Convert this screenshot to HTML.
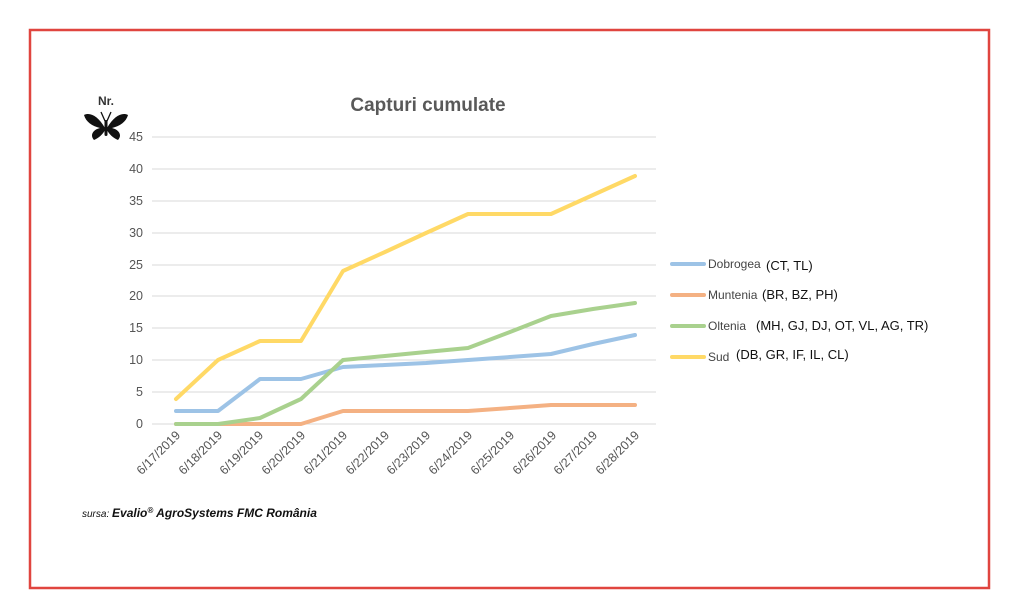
<!DOCTYPE html>
<html><head><meta charset="utf-8"><style>
body{margin:0;background:#fff;width:1024px;height:616px;overflow:hidden}
svg{display:block}
</style></head><body>
<svg width="1024" height="616" xmlns="http://www.w3.org/2000/svg" font-family="Liberation Sans, sans-serif">
<rect x="30" y="30" width="959" height="558" fill="none" stroke="#e0453f" stroke-width="2.5"/>
<text x="428" y="111" text-anchor="middle" font-size="19" font-weight="bold" fill="#595959">Capturi  cumulate</text>
<text x="106" y="105" text-anchor="middle" font-size="12" font-weight="bold" fill="#333">Nr.</text>
<g fill="#111">
<path d="M105 128 C98 116 90 112 84 115 C86 122 92 126 100 128 C92 130 90 136 94 140 C99 138 103 134 105 130 Z"/>
<path d="M107 128 C114 116 122 112 128 115 C126 122 120 126 112 128 C120 130 122 136 118 140 C113 138 109 134 107 130 Z"/>
<rect x="104.5" y="120" width="3" height="16" rx="1.5"/>
<path d="M105 121 L101 112 M107 121 L111 112" stroke="#111" stroke-width="1.3"/>
</g>
<g stroke="#d9d9d9" stroke-width="1">
<line x1="152" x2="656" y1="137" y2="137"/><line x1="152" x2="656" y1="169" y2="169"/>
<line x1="152" x2="656" y1="201" y2="201"/><line x1="152" x2="656" y1="233" y2="233"/>
<line x1="152" x2="656" y1="265" y2="265"/><line x1="152" x2="656" y1="296" y2="296"/>
<line x1="152" x2="656" y1="328" y2="328"/><line x1="152" x2="656" y1="360" y2="360"/>
<line x1="152" x2="656" y1="392" y2="392"/><line x1="152" x2="656" y1="424" y2="424"/>
</g>
<g font-size="12.5" fill="#555" text-anchor="end">
<text x="143" y="141">45</text><text x="143" y="173">40</text><text x="143" y="205">35</text>
<text x="143" y="237">30</text><text x="143" y="269">25</text><text x="143" y="300">20</text>
<text x="143" y="332">15</text><text x="143" y="364">10</text><text x="143" y="396">5</text>
<text x="143" y="428">0</text>
</g>
<g font-size="12.5" fill="#555" text-anchor="end">
<text transform="translate(181,436) rotate(-45)">6/17/2019</text>
<text transform="translate(223,436) rotate(-45)">6/18/2019</text>
<text transform="translate(264,436) rotate(-45)">6/19/2019</text>
<text transform="translate(306,436) rotate(-45)">6/20/2019</text>
<text transform="translate(348,436) rotate(-45)">6/21/2019</text>
<text transform="translate(390,436) rotate(-45)">6/22/2019</text>
<text transform="translate(431,436) rotate(-45)">6/23/2019</text>
<text transform="translate(473,436) rotate(-45)">6/24/2019</text>
<text transform="translate(515,436) rotate(-45)">6/25/2019</text>
<text transform="translate(557,436) rotate(-45)">6/26/2019</text>
<text transform="translate(598,436) rotate(-45)">6/27/2019</text>
<text transform="translate(640,436) rotate(-45)">6/28/2019</text>
</g>
<g fill="none" stroke-width="4" stroke-linejoin="round" stroke-linecap="round">
<polyline stroke="#f4b183" points="176,424 218,424 260,424 301,424 343,411 385,411 426,411 468,411 510,408 551,405 593,405 635,405"/>
<polyline stroke="#9dc3e6" points="176,411 218,411 260,379 301,379 343,367 385,365 426,363 468,360 510,357 551,354 593,344 635,335"/>
<polyline stroke="#a9d18e" points="176,424 218,424 260,418 301,399 343,360 385,356 426,352 468,348 510,332 551,316 593,309 635,303"/>
<polyline stroke="#ffd966" points="176,399 218,360 260,341 301,341 343,271 385,252 426,233 468,214 510,214 551,214 593,195 635,176"/>
</g>
<g stroke-width="4" stroke-linecap="round">
<line x1="672" x2="704" y1="264" y2="264" stroke="#9dc3e6"/>
<line x1="672" x2="704" y1="295" y2="295" stroke="#f4b183"/>
<line x1="672" x2="704" y1="326" y2="326" stroke="#a9d18e"/>
<line x1="672" x2="704" y1="357" y2="357" stroke="#ffd966"/>
</g>
<g font-size="12" fill="#444">
<text x="708" y="268">Dobrogea</text><text x="766" y="270" font-size="13" fill="#111">(CT, TL)</text>
<text x="708" y="299">Muntenia</text><text x="762" y="299" font-size="13" fill="#111">(BR, BZ, PH)</text>
<text x="708" y="330">Oltenia</text><text x="756" y="330" font-size="13" fill="#111">(MH, GJ, DJ, OT, VL, AG, TR)</text>
<text x="708" y="361">Sud</text><text x="736" y="359" font-size="13" fill="#111">(DB, GR, IF, IL, CL)</text>
</g>
<text x="82" y="517" font-size="10" font-style="italic" fill="#111">sursa: <tspan font-weight="bold" font-size="12">Evalio<tspan font-size="8" dy="-4">®</tspan><tspan dy="4"> AgroSystems FMC România</tspan></tspan></text>
</svg>
</body></html>
